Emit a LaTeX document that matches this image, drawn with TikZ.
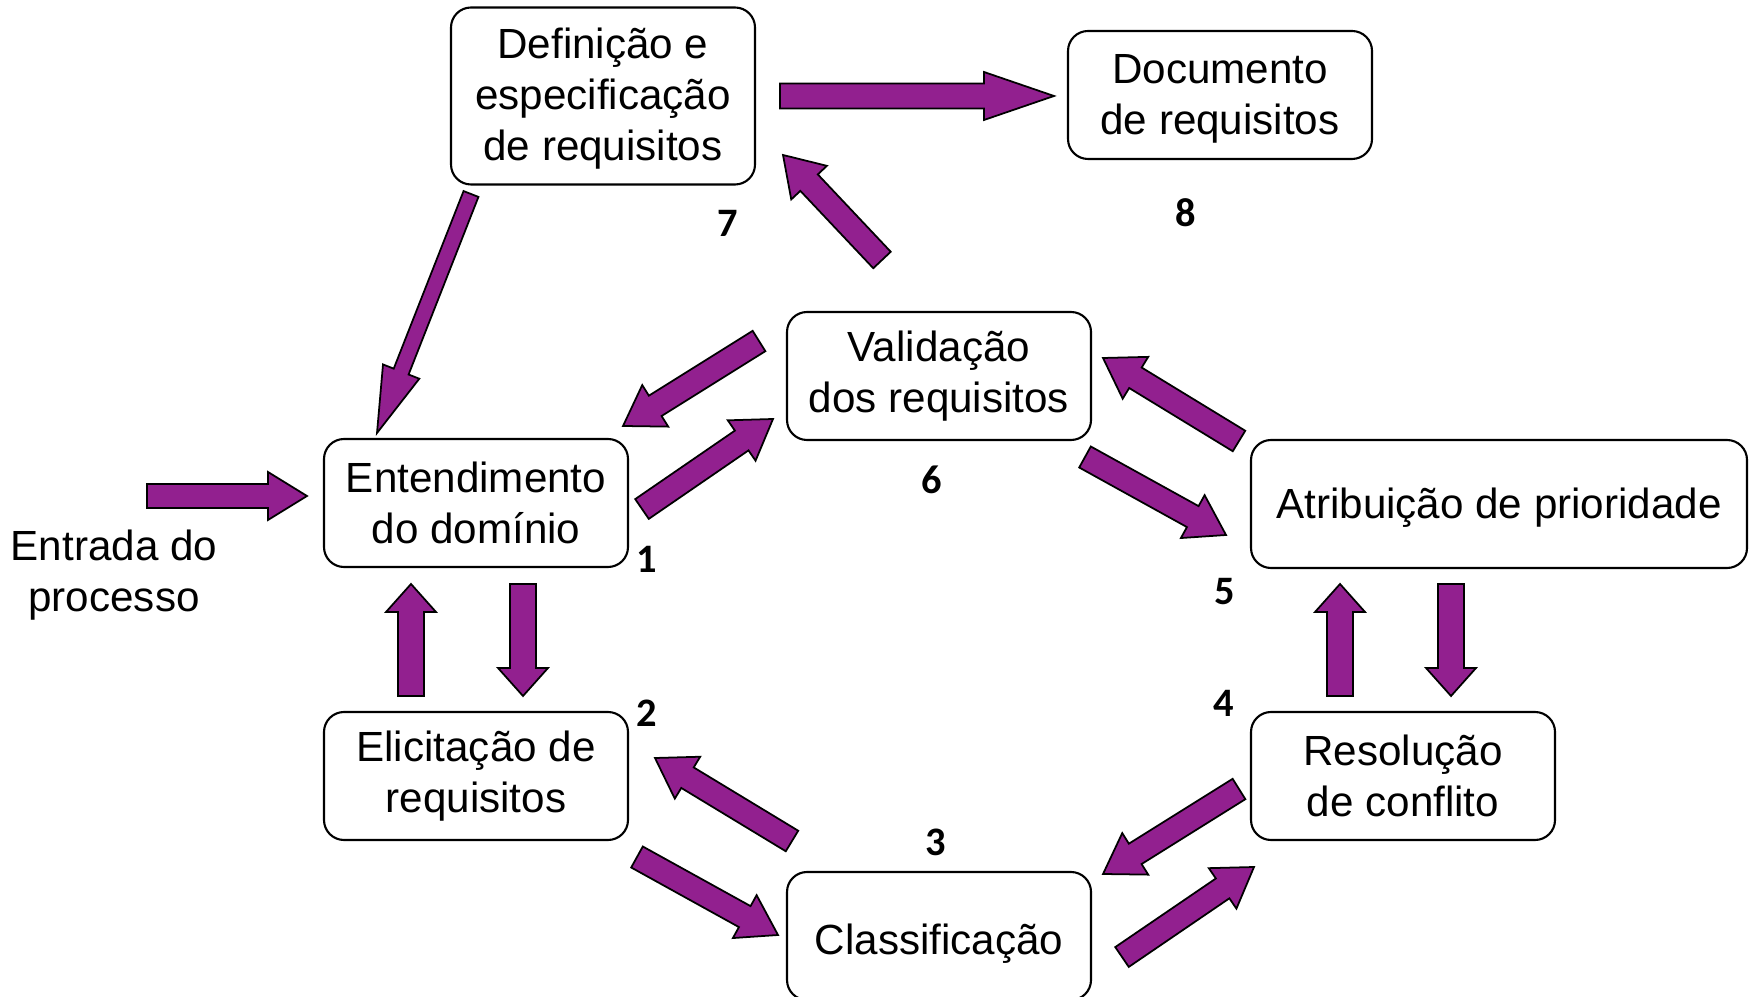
\documentclass[tikz,border=0pt]{standalone}
\usepackage{fontspec}
\setmainfont{Liberation Sans}
\newfontfamily\numfont{Carlito}
\usepackage{tikz}
\usetikzlibrary{calc}

\definecolor{arrowpurple}{RGB}{146,32,143}

% block arrow: tail, tip, half body width, half head width, head length
\newcommand{\barrow}[5]{%
  \path ($(#2)!#5!(#1)$) coordinate (hb);
  \draw[blk] ($(#1)!#3!90:(#2)$) -- ($(hb)!#3!-90:(#1)$) -- ($(hb)!#4!-90:(#1)$) -- (#2)
    -- ($(hb)!#4!90:(#1)$) -- ($(hb)!#3!90:(#1)$) -- ($(#1)!#3!-90:(#2)$) -- cycle;
}
% lower a text a little inside its box
\newcommand{\lowertext}[2]{\raisebox{-#1}[\height][\depth]{\begin{tabular}{@{}c@{}}#2\end{tabular}}}

\begin{document}
\begin{tikzpicture}
[box/.style ={rectangle, draw=black, line width=0.6pt, rounded corners=0.2cm, minimum width=3.04cm, minimum height=1.28cm, align=center, font=\fontsize{12}{14.5}\selectfont},
 num/.style ={font=\numfont\bfseries\fontsize{11.5}{12}\selectfont},
 blk/.style ={draw=black, line width=0.5pt, fill=arrowpurple, line join=miter}]
\useasboundingbox (0,0) rectangle (17.5,-9.97);
\draw (6.03, -0.96) node[box, minimum height=1.77cm] (def) {\lowertext{0.35mm}{Definição e\\especificação\\de requisitos}};
\draw (12.20, -0.95) node[box] (doc) {\lowertext{0.35mm}{Documento\\de requisitos}};
\draw (9.39, -3.76) node[box] (val) {Validação\\dos requisitos};
\draw (4.76, -5.03) node[box] (ent) {Entendimento\\do domínio};
\draw (14.99, -5.04) node[box, minimum width=4.96cm] (atr) {\lowertext{0.4mm}{Atribuição de prioridade}};
\draw (4.76, -7.76) node[box] (eli) {Elicitação de\\requisitos};
\draw (14.03, -7.76) node[box] (res) {Resolução\\de conflito};
\draw (9.39, -9.36) node[box] (cla) {\lowertext{0.8mm}{Classificação}};
\draw (1.14, -5.75) node[align=center, font=\fontsize{12}{14.5}\selectfont] (inp) {Entrada do\\processo};
% step numbers
\draw (6.47, -5.59) node[num] (n1) {1};
\draw (6.47, -7.13) node[num] (n2) {2};
\draw (9.36, -8.42) node[num] (n3) {3};
\draw (12.24, -7.03) node[num] (n4) {4};
\draw (12.25, -5.92) node[num] (n5) {5};
\draw (9.32, -4.80) node[num] (n6) {6};
\draw (7.28, -2.23) node[num] (n7) {7};
\draw (11.86, -2.13) node[num] (n8) {8};
% arrow ends
\coordinate (inT) at (1.47, -4.96);   \coordinate (inH) at (3.07, -4.96);
\coordinate (ddT) at (7.80, -0.96);   \coordinate (ddH) at (10.54, -0.96);
\coordinate (deT) at (4.71, -1.94);   \coordinate (deH) at (3.77, -4.33);
\coordinate (vdT) at (8.82, -2.60);   \coordinate (vdH) at (7.83, -1.55);
\coordinate (veT) at (7.59, -3.41);   \coordinate (veH) at (6.23, -4.26);
\coordinate (evT) at (6.42, -5.09);   \coordinate (evH) at (7.73, -4.19);
\coordinate (vaT) at (10.85, -4.57);  \coordinate (vaH) at (12.26, -5.35);
\coordinate (avT) at (12.39, -4.41);  \coordinate (avH) at (11.03, -3.58);
\coordinate (eeT) at (5.23, -5.84);   \coordinate (eeH) at (5.23, -6.96);
\coordinate (ueT) at (4.11, -6.96);   \coordinate (ueH) at (4.11, -5.84);
\coordinate (ceT) at (7.92, -8.41);   \coordinate (ceH) at (6.55, -7.58);
\coordinate (ecT) at (6.37, -8.57);   \coordinate (ecH) at (7.78, -9.35);
\coordinate (crT) at (11.22, -9.57);  \coordinate (crH) at (12.54, -8.67);
\coordinate (rcT) at (12.39, -7.89);  \coordinate (rcH) at (11.03, -8.74);
\coordinate (raT) at (13.40, -6.96);  \coordinate (raH) at (13.40, -5.84);
\coordinate (arT) at (14.51, -5.84);  \coordinate (arH) at (14.51, -6.96);
\barrow{inT}{inH}{0.12cm}{0.24cm}{0.39cm}
\barrow{ddT}{ddH}{0.125cm}{0.24cm}{0.70cm}
\barrow{deT}{deH}{0.08cm}{0.195cm}{0.66cm}
\barrow{vdT}{vdH}{0.12cm}{0.245cm}{0.38cm}
\barrow{veT}{veH}{0.12cm}{0.245cm}{0.38cm}
\barrow{evT}{evH}{0.12cm}{0.245cm}{0.38cm}
\barrow{vaT}{vaH}{0.12cm}{0.245cm}{0.38cm}
\barrow{avT}{avH}{0.12cm}{0.245cm}{0.38cm}
\barrow{eeT}{eeH}{0.13cm}{0.25cm}{0.28cm}
\barrow{ueT}{ueH}{0.13cm}{0.25cm}{0.28cm}
\barrow{ceT}{ceH}{0.12cm}{0.245cm}{0.38cm}
\barrow{ecT}{ecH}{0.12cm}{0.245cm}{0.38cm}
\barrow{crT}{crH}{0.12cm}{0.245cm}{0.38cm}
\barrow{rcT}{rcH}{0.12cm}{0.245cm}{0.38cm}
\barrow{raT}{raH}{0.13cm}{0.25cm}{0.28cm}
\barrow{arT}{arH}{0.13cm}{0.25cm}{0.28cm}
\end{tikzpicture}
\end{document}
